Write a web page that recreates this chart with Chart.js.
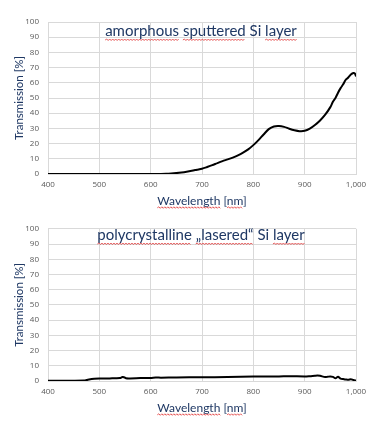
<!DOCTYPE html>
<html>
<head>
<meta charset="utf-8">
<script src="https://cdn.jsdelivr.net/npm/chart.js@4.4.0/dist/chart.umd.min.js"></script>
<style>
  body { margin: 0; background: #fff; }
  .box { position: absolute; left: 0; width: 383px; }
  #top { top: 0; height: 215px; }
  #bot { top: 215px; height: 214px; }
</style>
</head>
<body>
<div class="box" id="top"><canvas id="amorphChart"></canvas></div>
<div class="box" id="bot"><canvas id="polyChart"></canvas></div>
<script>
// amorphous sputtered Si layer
let amorphWl = [400,450,500,550,600,620,630,640,650,660,670,680,690,700,710,720,730,740,750,760,770,780,790,800,810,820,830,840,850,860,870,880,890,900,910,920,930,940,950,955,960,965,970,975,980,985,990,995,998,1000];
let amorphT  = [0,0,0,0,0,0,0.1,0.3,0.6,1.0,1.5,2.1,2.8,3.5,4.6,5.8,7.2,8.5,9.6,10.8,12.2,14,16.2,19,22.3,26,29.5,31.3,31.6,31,29.8,28.8,28.2,28.4,29.8,32.2,35.2,39,44,47.5,50,53.5,56.5,59,62,63.5,65.5,66.5,66,64.2];

// polycrystalline lasered Si layer
let polyWl = [400,450,470,475,480,485,490,500,510,520,530,540,545,548,552,560,580,600,610,620,650,700,750,800,850,870,900,910,920,925,930,940,945,950,955,960,965,970,975,980,985,990,995,1000];
let polyT  = [0.2,0.2,0.3,0.6,1.0,1.3,1.5,1.6,1.6,1.7,1.8,1.9,2.6,2.5,1.8,1.7,1.9,2.0,2.3,2.2,2.3,2.5,2.6,2.9,3.0,3.2,3.0,3.2,3.5,3.6,3.4,2.6,2.8,3.0,2.7,1.8,2.8,1.6,1.3,1.0,0.8,1.2,0.6,0.3];

let xTicks = [400,500,600,700,800,900,1000];
let yTicks = [0,10,20,30,40,50,60,70,80,90,100];

const navy = '#1f3864';
const font = "Lato, 'Open Sans', sans-serif";
const tickFont = "'Open Sans', 'Noto Sans', sans-serif";

function wavy(ctx, x1, x2, y){
    ctx.save();
    ctx.strokeStyle = '#e03030';
    ctx.lineWidth = 0.8;
    ctx.beginPath();
    let up = true;
    ctx.moveTo(x1, y);
    for(let x = x1 + 1.5; x <= x2; x += 1.5){
        ctx.lineTo(x, up ? y - 1 : y + 0.5);
        up = !up;
    }
    ctx.stroke();
    ctx.restore();
}

function titlePlugin(text, cx, cy, marks){
    return {
        id: 'innerTitle',
        afterDraw(chart){
            let ctx = chart.ctx;
            ctx.save();
            ctx.font = '15px ' + font;
            ctx.fillStyle = navy;
            ctx.textAlign = 'center';
            ctx.textBaseline = 'middle';
            ctx.fillText(text, cx, cy);
            let w = ctx.measureText(text).width;
            let left = cx - w / 2;
            marks.forEach(m => {
                let a = ctx.measureText(text.slice(0, m[0])).width;
                let b = ctx.measureText(text.slice(0, m[1])).width;
                wavy(ctx, left + a, left + b, cy + 9);
            });
            // x axis title underline
            let xs = chart.scales.x;
            ctx.font = '12px ' + font;
            let xt = 'Wavelength [nm]';
            let xw = ctx.measureText(xt).width;
            let xl = (xs.left + xs.right) / 2 - xw / 2;
            let ty = xs.bottom - 7.2 + 7;
            wavy(ctx, xl, xl + ctx.measureText('Wavelength').width, ty);
            wavy(ctx, xl + ctx.measureText('Wavelength [').width, xl + ctx.measureText('Wavelength [nm').width, ty);
            ctx.restore();
        }
    };
}

function makeChart(id, wl, vals, topPad, bottomPad, plugin){
    let ctx = document.getElementById(id);
    let pts = wl.map((w, i) => ({x: w, y: vals[i]}));
    return new Chart(ctx, {
        type: 'line',
        data: {
            datasets: [{
                data: pts,
                borderColor: '#000',
                borderWidth: 2,
                pointRadius: 0,
                tension: 0.3,
                fill: false
            }]
        },
        options: {
            animation: false,
            maintainAspectRatio: false,
            responsive: true,
            layout: { padding: { top: topPad, left: 10, right: 27, bottom: bottomPad } },
            plugins: { legend: { display: false }, tooltip: { enabled: false } },
            scales: {
                x: {
                    type: 'linear', min: 400, max: 1000,
                    afterBuildTicks: s => { s.ticks = xTicks.map(v => ({value: v})); },
                    afterFit: s => { s.height = 34; },
                    grid: { color: '#d9d9d9', drawTicks: false },
                    border: { color: '#d9d9d9' },
                    ticks: { color: '#595959', font: { size: 8, family: tickFont }, padding: 6, maxRotation: 0 },
                    title: { display: true, text: 'Wavelength [nm]', color: navy, font: { size: 12, family: font }, padding: { top: 2, bottom: 0 } }
                },
                y: {
                    min: 0, max: 100,
                    afterBuildTicks: s => { s.ticks = yTicks.map(v => ({value: v})); },
                    afterFit: s => { s.width = 38; },
                    grid: { color: '#d9d9d9', drawTicks: false },
                    border: { color: '#d9d9d9' },
                    ticks: { color: '#595959', font: { size: 8, family: tickFont }, padding: 9 },
                    title: { display: true, text: 'Transmission [%]', color: navy, font: { size: 11.5, family: font }, padding: { top: 2, bottom: 0 } }
                }
            }
        },
        plugins: [plugin]
    });
}

makeChart('amorphChart', amorphWl, amorphT, 22, 7,
    titlePlugin('amorphous sputtered Si layer', 201, 31, [[0, 9], [10, 19], [23, 28]]));
makeChart('polyChart', polyWl, polyT, 11, 14,
    titlePlugin('polycrystalline \u201elasered\u201c Si layer', 201, 20, [[0, 15], [16, 25], [29, 34]]));
</script>
</body>
</html>
